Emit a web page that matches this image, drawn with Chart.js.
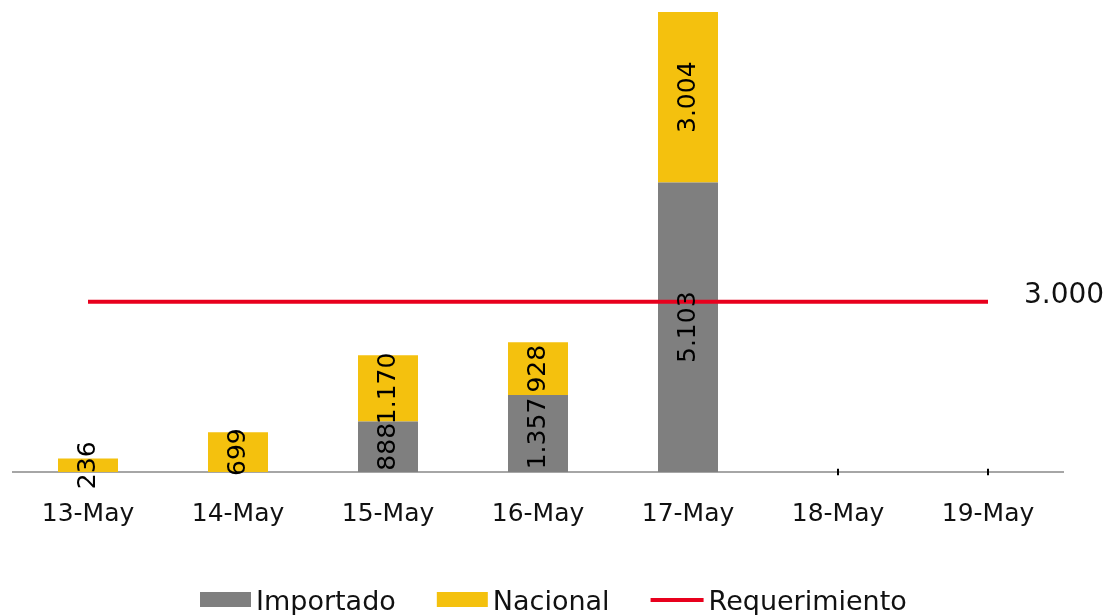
<!DOCTYPE html>
<html>
<head>
<meta charset="utf-8">
<script src="https://cdn.jsdelivr.net/npm/chart.js@4/dist/chart.umd.min.js"></script>
<style>
  html, body { margin: 0; padding: 0; background: #fff; }
  #wrap { width: 1112px; height: 615px; position: relative; }
</style>
</head>
<body>
<div id="wrap"><canvas id="c" width="1112" height="615"></canvas></div>
<script>
const categories = ['13-May', '14-May', '15-May', '16-May', '17-May', '18-May', '19-May'];
const importado = [null, null, 888, 1357, 5103, 0, 0];
const nacional = [236, 699, 1170, 928, 3004, null, null];
const requerimiento = [3000, 3000, 3000, 3000, 3000, 3000, 3000];
const seriesNames = ['Importado', 'Nacional', 'Requerimiento'];

const GRAY = '#7f7f7f';
const YELLOW = '#f4c10e';
const RED = '#e8001d';
const FONT = '"DejaVu Sans", sans-serif';

function fmt(v) {
  if (v === 0) return '-';
  return String(v).replace(/\B(?=(\d{3})+(?!\d))/g, '.');
}

const labelPlugin = {
  id: 'labels',
  afterDatasetsDraw(chart) {
    const ctx = chart.ctx;
    ctx.save();
    ctx.fillStyle = '#000';
    ctx.font = '25px ' + FONT;
    ctx.textAlign = 'center';
    ctx.textBaseline = 'middle';
    [0, 1].forEach(di => {
      const meta = chart.getDatasetMeta(di);
      const data = chart.data.datasets[di].data;
      meta.data.forEach((el, i) => {
        const v = data[i];
        if (v === null || v === undefined) return;
        const cy = (el.y + el.base) / 2;
        ctx.save();
        ctx.translate(el.x, cy);
        ctx.rotate(-Math.PI / 2);
        ctx.fillText(fmt(v), 0, 0);
        ctx.restore();
      });
    });
    // line end label
    const lm = chart.getDatasetMeta(2);
    const last = lm.data[lm.data.length - 1];
    ctx.font = '28px ' + FONT;
    ctx.textAlign = 'left';
    ctx.textBaseline = 'alphabetic';
    ctx.fillStyle = '#111';
    ctx.fillText(fmt(requerimiento[requerimiento.length - 1]), last.x + 36, last.y + 1);
    ctx.restore();
  },
  afterDraw(chart) {
    const ctx = chart.ctx;
    ctx.save();
    ctx.font = '27px ' + FONT;
    ctx.fillStyle = '#111';
    ctx.textBaseline = 'alphabetic';
    ctx.textAlign = 'left';
    const cy = 600;
    let x = 200;
    const colors = [GRAY, YELLOW, RED];
    seriesNames.forEach((name, i) => {
      if (i < 2) {
        ctx.fillStyle = colors[i];
        ctx.fillRect(x, cy - 8, 51, 15);
      } else {
        ctx.fillStyle = colors[i];
        ctx.fillRect(x, cy - 2, 53, 4);
      }
      x += (i < 2 ? 51 : 53) + 5;
      ctx.fillStyle = '#111';
      ctx.fillText(name, x, cy + 10);
      x += ctx.measureText(name).width + 41;
    });
    ctx.restore();
  }
};

new Chart(document.getElementById('c'), {
  type: 'bar',
  data: {
    labels: categories,
    datasets: [
      { type: 'bar', label: seriesNames[0], data: importado, backgroundColor: GRAY, stack: 's', order: 2,
        barPercentage: 1.0, categoryPercentage: 0.4 },
      { type: 'bar', label: seriesNames[1], data: nacional, backgroundColor: YELLOW, stack: 's', order: 2,
        barPercentage: 1.0, categoryPercentage: 0.4 },
      { type: 'line', label: seriesNames[2], data: requerimiento, borderColor: RED, backgroundColor: RED,
        borderWidth: 4, pointRadius: 0, stack: 'req', order: 0, fill: false, tension: 0 }
    ]
  },
  options: {
    responsive: false,
    animation: false,
    events: [],
    layout: { padding: { left: 13, right: 49, top: 12, bottom: 0 } },
    plugins: { legend: { display: false }, tooltip: { enabled: false } },
    scales: {
      x: {
        stacked: true,
        grid: { display: false, drawTicks: false },
        border: { display: true, color: '#a6a6a6', width: 2 },
        ticks: { color: '#111', font: { family: FONT, size: 25 }, padding: 27, maxRotation: 0, autoSkip: false },
        afterFit(scale) { scale.height = 143; }
      },
      y: {
        stacked: true,
        display: false,
        min: 0,
        max: 8107
      }
    }
  },
  plugins: [labelPlugin]
});
</script>
</body>
</html>
